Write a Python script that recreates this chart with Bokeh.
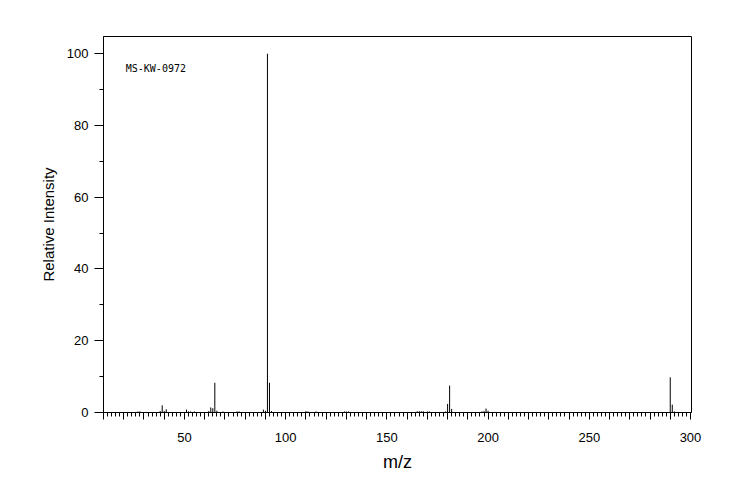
from bokeh.plotting import figure
from bokeh.models import ColumnDataSource, FixedTicker, Label, Range1d, LinearAxis
from bokeh.embed import file_html
from bokeh.resources import INLINE

# m/z values and relative intensities
mz = [27, 28, 38, 39, 40, 41, 51, 52, 53, 55, 62, 63, 64, 65, 66, 69,
      76, 77, 89, 90, 91, 92, 93, 110, 111, 115, 129, 130, 131,
      165, 166, 167, 168, 170, 171, 179, 180, 181, 182,
      197, 198, 199, 200, 290, 291, 292]
intensity = [0.3, 0.3, 0.4, 2.0, 0.4, 0.9, 0.8, 0.3, 0.3, 0.3, 0.4, 1.4, 1.2, 8.3, 0.5, 0.3,
             0.3, 0.3, 0.8, 0.5, 100.0, 8.3, 0.4, 0.4, 0.3, 0.3, 0.3, 0.3, 0.3,
             0.35, 0.35, 0.35, 0.35, 0.3, 0.3, 0.3, 2.4, 7.5, 1.0,
             0.3, 0.4, 1.1, 0.5, 9.8, 2.2, 0.3]

x_ticks = list(range(10, 301, 10))
x_minor = list(range(10, 301, 2))
x_major_long = [50, 100, 150, 200, 250, 300]
x_labels = {t: (str(t) if t % 50 == 0 else "") for t in x_ticks}
y_ticks = [0, 20, 40, 60, 80, 100]
sample_id = "MS-KW-0972"

src = ColumnDataSource(data=dict(mz=mz, zero=[0] * len(mz), inten=intensity))

p = figure(width=736, height=492, output_backend="svg", toolbar_location=None,
           x_range=Range1d(10, 300.5), y_range=Range1d(0, 104.8),
           min_border_left=103, min_border_right=45, min_border_top=36, min_border_bottom=80)
p.background_fill_color = "white"
p.border_fill_color = "white"
p.outline_line_color = "black"
p.outline_line_alpha = 1.0
p.xgrid.visible = False
p.ygrid.visible = False

p.segment(x0="mz", y0="zero", x1="mz", y1="inten", source=src, line_color="black", line_width=1)

font = "Liberation Sans"
xa = p.xaxis[0]
xa.ticker = FixedTicker(ticks=x_ticks, minor_ticks=x_minor)
xa.major_label_overrides = x_labels
xa.major_tick_out = 7
xa.major_tick_in = 0
xa.minor_tick_out = 4
xa.minor_tick_in = 0
xa.axis_label = "m/z"
xa.axis_label_text_font = font
xa.axis_label_text_font_size = "18px"
xa.axis_label_text_font_style = "normal"
xa.axis_label_text_color = "black"
xa.axis_label_standoff = 7
xa.major_label_text_font = font
xa.major_label_text_font_size = "13px"
xa.major_label_text_color = "black"
xa.major_label_standoff = 13
xa.axis_line_color = "black"
xa.major_tick_line_color = "black"
xa.minor_tick_line_color = "black"

# longer ticks at the labelled positions, drawn on the same baseline (no labels)
xb = LinearAxis(ticker=FixedTicker(ticks=x_major_long, minor_ticks=[]), fixed_location=0,
                major_tick_out=10, major_tick_in=0, minor_tick_out=0, minor_tick_in=0,
                major_label_overrides={t: "" for t in x_major_long},
                axis_line_color=None, major_tick_line_color="black")
p.add_layout(xb, "below")

ya = p.yaxis[0]
ya.ticker = FixedTicker(ticks=y_ticks, minor_ticks=[10, 30, 50, 70, 90])
ya.major_tick_out = 9
ya.major_tick_in = 0
ya.minor_tick_out = 4
ya.minor_tick_in = 0
ya.axis_label = "Relative Intensity"
ya.axis_label_text_font = font
ya.axis_label_text_font_size = "15px"
ya.axis_label_text_font_style = "normal"
ya.axis_label_text_color = "black"
ya.axis_label_standoff = 7
ya.major_label_text_font = font
ya.major_label_text_font_size = "13px"
ya.major_label_text_color = "black"
ya.major_label_standoff = 6
ya.axis_line_color = "black"
ya.major_tick_line_color = "black"
ya.minor_tick_line_color = "black"

p.add_layout(Label(x=21, y=96, text=sample_id, text_font="DejaVu Sans Mono",
                   text_font_size="10px", text_baseline="middle", text_color="black"))

open("out.html", "w").write(file_html(p, INLINE))
